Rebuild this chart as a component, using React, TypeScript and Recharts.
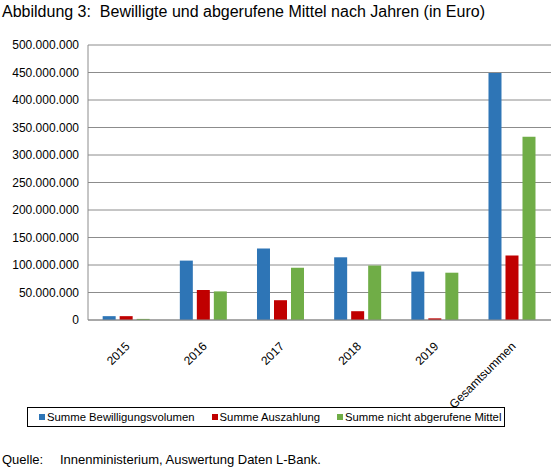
import { BarChart, Bar, XAxis, YAxis, CartesianGrid } from 'recharts'

const categories = ['2015', '2016', '2017', '2018', '2019', 'Gesamtsummen']
const bewilligung = [7000000, 108000000, 130000000, 114000000, 88000000, 449000000]
const auszahlung = [7000000, 54500000, 36000000, 16000000, 3000000, 117500000]
const nichtAbgerufen = [2000000, 52000000, 95000000, 99000000, 86000000, 333000000]
const yTicks = [0, 50000000, 100000000, 150000000, 200000000, 250000000, 300000000, 350000000, 400000000, 450000000, 500000000]

const seriesNames = ['Summe Bewilligungsvolumen', 'Summe Auszahlung', 'Summe nicht abgerufene Mittel']
const colors = ['#2E75B6', '#C00000', '#70AD47']

const data = categories.map((name, i) => ({
  name,
  a: bewilligung[i],
  b: auszahlung[i],
  c: nichtAbgerufen[i],
}))

const font = '"Liberation Sans", Arial, sans-serif'

const fmt = (v: number) => String(v).replace(/\B(?=(\d{3})+(?!\d))/g, '.')

function XTick({ x, y, payload }: any) {
  return (
    <g transform={`translate(${x + 1},${y + 16})`}>
      <text transform="rotate(-45)" textAnchor="end" dy="0.35em" fontSize={12} fill="#000" fontFamily={font}>
        {payload.value}
      </text>
    </g>
  )
}

function LegendBox() {
  return (
    <div
      style={{
        position: 'absolute',
        left: 27,
        top: 407,
        width: 478,
        height: 20,
        border: '1px solid #000',
        display: 'flex',
        alignItems: 'center',
        fontSize: 11.3,
        color: '#000',
        paddingLeft: 11,
        boxSizing: 'border-box',
        whiteSpace: 'nowrap',
      }}
    >
      {seriesNames.map((n, i) => (
        <span key={n} style={{ display: 'flex', alignItems: 'center', marginRight: i < 2 ? 17 : 0 }}>
          <span style={{ width: 6, height: 6, background: colors[i], display: 'inline-block', marginRight: 2 }} />
          {n}
        </span>
      ))}
    </div>
  )
}

export default function App() {
  return (
    <div style={{ position: 'absolute', left: 0, top: 0, width: 558, height: 471, background: '#fff', fontFamily: font }}>
      <div style={{ position: 'absolute', left: 2, top: 3, fontSize: 16, color: '#000', whiteSpace: 'pre' }}>
        {'Abbildung 3:  Bewilligte und abgerufene Mittel nach Jahren (in Euro)'}
      </div>
      <BarChart
        width={558}
        height={471}
        data={data}
        margin={{ top: 45, right: 7, bottom: 121, left: 0 }}
        barCategoryGap="19%"
        barGap={4}
      >
        <CartesianGrid vertical={false} stroke="#8c8c8c" />
        <XAxis
          dataKey="name"
          interval={0}
          tickLine={false}
          axisLine={{ stroke: '#8c8c8c' }}
          tick={<XTick />}
        />
        <YAxis
          width={88}
          domain={[0, 500000000]}
          ticks={yTicks}
          tickFormatter={fmt}
          tickLine={false}
          tickMargin={3}
          axisLine={{ stroke: '#8c8c8c' }}
          tick={{ fontSize: 12, fill: '#000', fontFamily: font }}
          interval={0}
        />
        <Bar dataKey="a" name={seriesNames[0]} fill={colors[0]} isAnimationActive={false} />
        <Bar dataKey="b" name={seriesNames[1]} fill={colors[1]} isAnimationActive={false} />
        <Bar dataKey="c" name={seriesNames[2]} fill={colors[2]} isAnimationActive={false} />
      </BarChart>
      <LegendBox />
      <div style={{ position: 'absolute', left: 2, top: 452, fontSize: 13, color: '#000', whiteSpace: 'pre' }}>
        <span style={{ display: 'inline-block', width: 58 }}>Quelle:</span>
        Innenministerium, Auswertung Daten L-Bank.
      </div>
    </div>
  )
}
